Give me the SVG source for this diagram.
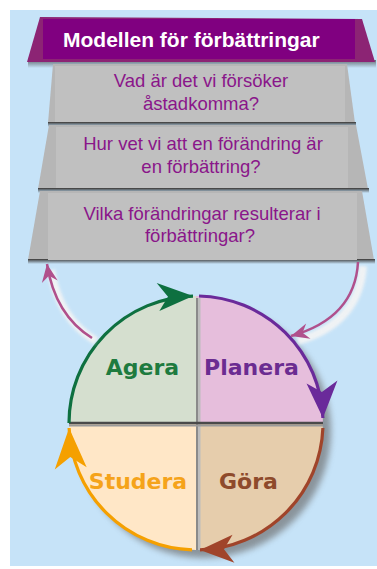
<svg xmlns="http://www.w3.org/2000/svg" width="377" height="569" viewBox="0 0 377 569">
<style>
.q{font-family:"Liberation Sans",Arial,sans-serif;font-size:18.5px;fill:#8A168A;text-anchor:middle}
.t{font-family:"Liberation Sans",Arial,sans-serif;font-size:21px;font-weight:bold;fill:#fff}
.l{font-family:"DejaVu Sans",Verdana,sans-serif;font-size:22px;font-weight:bold;text-anchor:middle}
.slab{fill:#B6B6B6}
.face{fill:#C0C0C0}
.arc{fill:none;stroke-width:3.2}
.link{fill:none;stroke:#B0508C;stroke-width:2.5}
.glow{fill:none;stroke:#f4f4f4;stroke-width:8;opacity:.9}
</style>
<defs>
<filter id="blur" x="-20%" y="-20%" width="140%" height="140%"><feGaussianBlur stdDeviation="3"/></filter>
<filter id="blur2" x="-20%" y="-20%" width="140%" height="140%"><feGaussianBlur stdDeviation="1.8"/></filter>
<linearGradient id="sh" x1="0" y1="0" x2="0" y2="1"><stop offset="0" stop-color="#3c3c3c"/><stop offset="1" stop-color="#3c3c3c" stop-opacity="0"/></linearGradient>
<marker id="mg" viewBox="-38 -16 42 32" refX="0" refY="0" markerWidth="42" markerHeight="32" markerUnits="userSpaceOnUse" orient="auto"><path d="M0,0 L-36,-14 L-25,0 L-34,14 Z" fill="#0E7040"/></marker>
<marker id="mp" viewBox="-40 -18 44 36" refX="0" refY="0" markerWidth="44" markerHeight="36" markerUnits="userSpaceOnUse" orient="auto"><path d="M0,0 L-37,-16 L-26,0 L-35,15 Z" fill="#6A2A9A"/></marker>
<marker id="mb" viewBox="-36 -16 40 32" refX="0" refY="0" markerWidth="40" markerHeight="32" markerUnits="userSpaceOnUse" orient="auto"><path d="M0,0 L-34,-14 L-24,0 L-33,14 Z" fill="#A0442A"/></marker>
<marker id="mo" viewBox="-44 -18 48 36" refX="0" refY="0" markerWidth="48" markerHeight="36" markerUnits="userSpaceOnUse" orient="auto"><path d="M0,0 L-41,-16 L-29,0 L-40,16 Z" fill="#F5A000"/></marker>
<marker id="mm" viewBox="-22 -12 26 24" refX="0" refY="0" markerWidth="26" markerHeight="24" markerUnits="userSpaceOnUse" orient="auto"><path d="M0,0 L-18,-8 L-12,0 L-18,8 Z" fill="#B0508C"/></marker>
</defs>

<rect x="10" y="10" width="367" height="556" fill="#C6E3F8"/>

<g id="title">
<rect x="28" y="60" width="348" height="8" fill="url(#sh)" opacity=".7"/>
<polygon points="40,17 362,19 375,62 27,62" fill="#8C2474"/>
<rect x="43" y="19" width="312" height="40" fill="#800080"/>
<text class="t" x="63" y="47">Modellen för förbättringar</text>
</g>

<g id="q1">
<polygon class="slab" points="53,64 347,64 355,123 48,123"/>
<rect x="48" y="122" width="308" height="5" fill="url(#sh)"/>
<rect class="face" x="55" y="66" width="290" height="56"/>
<text class="q" x="201" y="87">Vad är det vi försöker</text>
<text class="q" x="201" y="110">åstadkomma?</text>
</g>

<g id="q2">
<polygon class="slab" points="49,125 356,125 368,189 38,189"/>
<rect x="38" y="188" width="331" height="5" fill="url(#sh)"/>
<rect class="face" x="56" y="127" width="292" height="61"/>
<text class="q" x="203" y="150">Hur vet vi att en förändring är</text>
<text class="q" x="201" y="172.5">en förbättring?</text>
</g>

<g id="q3">
<polygon class="slab" points="40,191 362,191 374,260 28,260"/>
<rect x="28" y="259" width="347" height="5" fill="url(#sh)"/>
<rect class="face" x="48" y="193" width="309" height="67"/>
<text class="q" x="202" y="220">Vilka förändringar resulterar i</text>
<text class="q" x="200" y="242">förbättringar?</text>
</g>

<g id="cycle">
<circle cx="204" cy="431" r="127" fill="#6a6a6a" opacity=".65" filter="url(#blur)"/>
<g id="agera">
<path d="M196,423 L69,423 A127,127 0 0 1 196,296 Z" fill="#D5DFCF"/>
<text class="l" x="142.5" y="375" fill="#1E7B3F">Agera</text>
</g>
<g id="planera">
<path d="M196,423 L196,296 A127,127 0 0 1 323,423 Z" fill="#E6BEDC"/>
<text class="l" x="251.5" y="375" fill="#6B2C91">Planera</text>
</g>
<g id="gora">
<path d="M196,423 L323,423 A127,127 0 0 1 196,550 Z" fill="#E6CDAC"/>
<text class="l" x="248.5" y="489" fill="#8E4A2B">Göra</text>
</g>
<g id="studera">
<path d="M196,423 L196,550 A127,127 0 0 1 69,423 Z" fill="#FFE7C7"/>
<text class="l" x="138" y="489" fill="#F5A31A">Studera</text>
</g>
<line x1="199" y1="298" x2="199" y2="550" stroke="#bdbdbd" stroke-width="3"/>
<line x1="197" y1="298" x2="197" y2="550" stroke="#8a8a8a" stroke-width="2"/>
<line x1="69" y1="425.5" x2="323" y2="425.5" stroke="#9a9a9a" stroke-width="2"/>
<line x1="69" y1="423" x2="323" y2="423" stroke="#4a4a4a" stroke-width="2.5"/>
</g>

<g id="connectors">
<path class="arc" stroke="#0E7040" d="M69,423 A127,127 0 0 1 193,296.1" marker-end="url(#mg)"/>
<path class="arc" stroke="#6A2A9A" d="M199,296 A127,127 0 0 1 322.9,418" marker-end="url(#mp)"/>
<path class="arc" stroke="#A0442A" stroke-width="2.5" d="M322.9,428 A127,127 0 0 1 200,549.9" marker-end="url(#mb)"/>
<path class="arc" stroke="#F5A000" d="M192,549.9 A127,127 0 0 1 69.1,428" marker-end="url(#mo)"/>
<path class="glow" d="M96,341 Q59,319 51,270" filter="url(#blur2)"/>
<path class="link" d="M92,338 Q55,315 47,264" marker-end="url(#mm)"/>
<path class="glow" d="M363,266 Q359,323 298,341" filter="url(#blur2)"/>
<path class="link" d="M358,262 Q355,318 291,336" marker-end="url(#mm)"/>
</g>
</svg>
